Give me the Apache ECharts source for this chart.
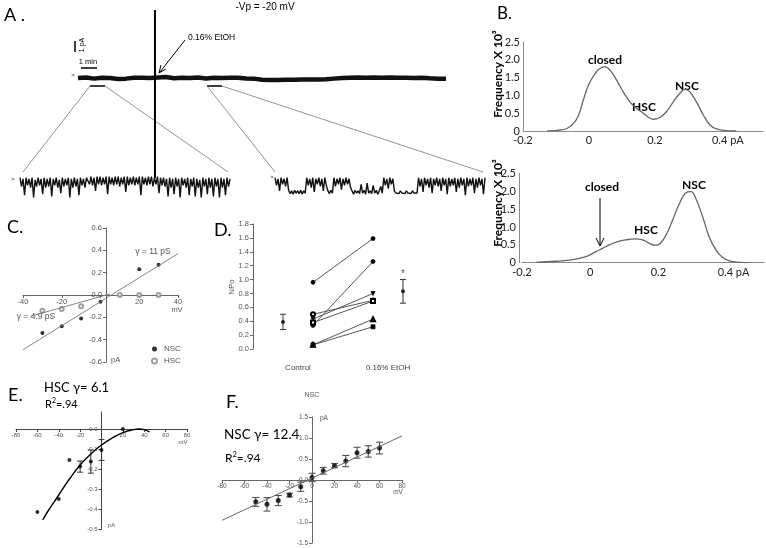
<!DOCTYPE html>
<html><head><meta charset="utf-8">
<script src="https://cdn.jsdelivr.net/npm/echarts@6.0.0/dist/echarts.min.js"></script>
<style>html,body{margin:0;padding:0;background:#fff}#c{width:766px;height:548px}</style>
</head><body><div id="c"></div>
<script>
// ---------- Panel A: recordings ----------
const topStep = 0.5; // minutes per sample
const topCurrent = [0,0.05,-0.05,0.03,0,-0.08,-0.05,0.02,0.04,0,
  0.05,0.1,-0.02,0.03,0,0.05,-0.03,0.02,0,0.04,
  0.02,-0.04,-0.05,-0.15,-0.18,-0.17,-0.15,-0.16,-0.14,-0.12,
  -0.13,-0.1,-0.05,0,0.03,0.05,0.04,0.06,0.02,0.05,
  0.03,0.04,0,0.02,-0.02,-0.05,-0.06];
const artifactTime = [4.81, 4.81];
const artifactCurrent = [6.2, -9.1];
const zoomTrace1 = [
  0.3,-0.5,0.2,-1.3,0.3,-0.4,0.2,-0.6,0.3,-1.5,
  0.1,-0.5,0.3,-0.4,0.2,-1.2,0.3,-0.6,0.2,-0.5,
  0.3,-1.4,0.2,-0.4,0.3,-0.6,0.1,-1.1,0.3,-0.5,
  0.2,-0.4,0.3,-1.5,0.2,-0.6,0.3,-0.5,0.2,-1.3,
  0.3,-0.4,0.2,-0.6,0.3,
  0.4,-0.3,0.4,-0.4,0.3,-0.9,0.4,-0.3,0.4,-0.4,
  0.3,-0.3,0.4,-1.2,0.4,-0.3,0.3,-0.4,0.4,-0.3,
  0.4,-0.5,0.3,-0.3,0.4,-1.0,0.4,-0.4,0.3,-0.3,
  0.4,-0.4,0.3,-0.3,0.4,-1.3,0.4,-0.3,0.3,-0.4,
  0.4,-0.3,0.4,-0.5,0.3,-0.3,0.4,-1.1,0.3,-0.4,
  0.3,-0.5,0.2,-1.4,0.3,-0.6,0.2,-1.2,0.3,-0.5,
  0.2,-1.5,0.3,-0.4,0.2,-0.6,0.3,-1.3,0.2,-0.5,
  0.3,-1.4,0.2,-0.6,0.1,-1.5,0.3,-0.5,0.2,-1.2,
  0.3,-0.6,0.2,-1.4,0.3,-0.5,0.2,-1.5,0.3,-0.6,
  0.2,-1.3,0.3,-0.5,0.2];
const zoomTrace2 = [
  0.3,-0.4,0.2,-0.9,0.3,-0.3,0.2,-0.5,0.3,
  -0.85,-1.15,-0.9,-1.2,-0.85,-1.1,-0.9,-1.15,-0.85,-1.2,-0.9,-1.1,
  0.3,-0.4,0.2,-0.6,0.3,-1.0,0.2,-0.3,0.3,-0.5,0.2,-0.9,0.3,-0.4,
  -0.9,-1.15,-0.85,-1.1,
  0.3,-0.5,0.2,-0.3,0.3,-0.8,0.2,-0.4,0.3,-0.3,0.2,-0.6,
  -0.9,-1.2,-0.85,-1.1,
  -0.9,-1.15,-0.3,-1.1,-0.85,-1.2,-0.2,-1.1,-0.9,-1.15,-0.4,-1.1,-0.85,-1.2,-0.9,-0.5,-1.1,
  0.3,-0.4,0.2,-0.7,0.3,-0.3,0.2,
  -0.9,-1.1,-0.95,-1.15,-0.9,-1.1,-0.95,-1.15,-0.9,-1.1,-0.95,-1.15,-0.9,-1.1,-0.95,-1.1,
  0.3,-0.5,0.2,-1.0,0.3,-0.4,0.2,-0.6,0.3,-1.1,
  0.2,-0.4,0.3,-0.5,0.2,-0.9,0.3,-0.4,0.2,-1.2,
  0.3,-0.5,0.2,-0.4,0.3,-1.0,0.2,-0.6,0.3,-0.4,
  0.2,-1.3,0.3,-0.5,0.2,-0.4,0.3,-1.1,0.2,-0.6,
  0.3,-0.4,0.2,-1.2,0.3];

// ---------- Panel B: amplitude histograms ----------
const bTopX = [-0.127,-0.097,-0.067,-0.046,-0.031,-0.017,0,0.023,0.038,0.048,0.064,0.084,0.104,0.124,0.144,0.165,0.185,0.195,0.215,0.235,0.256,0.276,0.291,0.306,0.326,0.347,0.367,0.387,0.417,0.447];
const bTopF = [0,0.02,0.07,0.22,0.45,0.87,1.32,1.67,1.78,1.81,1.71,1.43,1.10,0.82,0.64,0.50,0.36,0.33,0.38,0.54,0.82,1.06,1.17,1.10,0.82,0.45,0.17,0.06,0.01,0];
const bBotX = [-0.158,-0.100,-0.061,-0.032,-0.007,0.017,0.036,0.056,0.081,0.105,0.130,0.154,0.174,0.189,0.203,0.223,0.242,0.262,0.281,0.296,0.310,0.330,0.349,0.369,0.388,0.408,0.437,0.467];
const bBotF = [0.01,0.04,0.07,0.12,0.19,0.31,0.40,0.50,0.59,0.64,0.67,0.64,0.54,0.49,0.52,0.78,1.20,1.66,1.96,1.99,1.80,1.29,0.73,0.36,0.15,0.05,0.01,0];
const bXTickVals = [-0.2, 0, 0.2, 0.4];
const bXTickText = ['-0.2', '0', '0.2', '0.4 pA'];

// ---------- Panel C: I-V ----------
const cNscV = [-30,-20,-10,0,20,30];
const cNscI = [-0.34,-0.28,-0.21,-0.06,0.23,0.27];
const cHscV = [-30,-20,-10,10,20,30];
const cHscI = [-0.14,-0.125,-0.10,0,0,0];
const cNscFitV = [-40, 40];
const cNscFitI = [-0.49, 0.37];
const cHscFitV = [-36, 5];
const cHscFitI = [-0.19, 0.01];

// ---------- Panel D: NPo ----------
const dCategories = ['Control', '0.16% EtOH'];
const dControl = [0.96,0.34,0.43,0.50,0.38,0.06,0.06];
const dEtOH = [1.59,1.26,0.80,0.70,0.69,0.43,0.32];
const dSymbols = ['circle','circle','triangle','emptyCircle','emptyRect','emptyTriangle','rect'];
const dMeanX = [0.5, 2.5];
const dMean = [0.39, 0.83];
const dMeanLo = [0.28, 0.66];
const dMeanHi = [0.50, 1.00];
const dStar = [2.5, 1.08];

// ---------- Panel E: HSC I-V ----------
const eV = [-60,-40,-30,-20,-10,0,20];
const eI = [-0.415,-0.35,-0.155,-0.188,-0.163,-0.105,0.0];
const eErr = [0,0,0,0.028,0.058,0.052,0];
const eFitV = [-55,-50,-40,-30,-20,-10,0,10,20,30,35,40,45];
const eFitI = [-0.455,-0.41,-0.33,-0.25,-0.18,-0.125,-0.08,-0.045,-0.018,-0.003,0.0,-0.003,-0.015];

// ---------- Panel F: NSC I-V ----------
const fV = [-50,-40,-30,-20,-10,0,10,20,30,40,50,60];
const fI = [-0.52,-0.58,-0.49,-0.36,-0.16,0.06,0.22,0.34,0.45,0.65,0.68,0.76];
const fErr = [0.105,0.16,0.12,0.045,0.11,0.10,0.08,0.05,0.135,0.13,0.135,0.14];
const fFitV = [-80, 80];
const fFitI = [-0.96, 1.05];

// ================= build =================
const SP = 'Liberation Sans', XL = 'Lato';
const zip = (a, b) => a.map((v, i) => [v, b[i]]);

function hid(g, min, max) { return {type:'value', gridIndex:g, min, max, show:false}; }
function bX(g, max) {
  return {type:'value', gridIndex:g, min:-0.2, max, interval:0.2,
    axisLine:{onZero:false, lineStyle:{color:'#8a8a8a', width:1}}, axisTick:{show:false}, splitLine:{show:false},
    axisLabel:{showMaxLabel:false, fontFamily:XL, fontSize:11, color:'#222', margin:4,
      formatter: v => { const k = bXTickVals.findIndex(t => Math.abs(t - v) < 1e-6); if (k < 0) return ''; return k === 3 ? '{s| }' + bXTickText[k] : bXTickText[k]; },
      rich:{s:{width:14}}}};
}
function bY(g, off) {
  return {type:'value', gridIndex:g, min:0, max:2.5, interval:0.5, offset:off||0,
    axisLine:{show:true, onZero:false, lineStyle:{color:'#8a8a8a', width:1}}, axisTick:{show:false}, splitLine:{show:false},
    axisLabel:{fontFamily:XL, fontSize:11, color:'#222', margin:3, padding:[9,0,0,0],
      formatter: v => v === 0 ? '0' : v.toFixed(1)}};
}
// axes drawn where they cross: positioned with offsets (onZero off)
function spX(g, min, max, step, o) {
  return {type:'value', gridIndex:g, min, max, interval:step, position:'bottom', offset:o.offset || 0,
    axisLine:{onZero:false, lineStyle:{color:o.lc, width:1}},
    axisTick:{show:true, length:3, lineStyle:{color:o.lc}}, splitLine:{show:false},
    axisLabel:{fontFamily:SP, fontSize:o.fs, color:o.tc, margin:o.m,
      formatter: v => (v === 0 && o.hide0) ? '' : String(v)}};
}
function spY(g, min, max, step, o) {
  return {type:'value', gridIndex:g, min, max, interval:step, position:'left', offset:o.offset || 0,
    axisLine:{show:true, onZero:false, lineStyle:{color:o.lc, width:1}},
    axisTick:{show:true, length:3, lineStyle:{color:o.lc}}, splitLine:{show:false},
    axisLabel:{fontFamily:SP, fontSize:o.fs, color:o.tc, margin:o.m, showMaxLabel:o.showMax !== false,
      formatter: v => v.toFixed(1)}};
}

const grids = [
  {left:78, top:10, width:372, height:168},
  {left:20, top:172, width:210, height:28},
  {left:275, top:172, width:210, height:26},
  {left:523, top:42, width:240, height:89},
  {left:522, top:173.5, width:242, height:89.2},
  {left:23, top:228, width:155, height:134},
  {left:253, top:224, width:180, height:125},
  {left:16, top:412, width:171, height:117},
  {left:222, top:417, width:180, height:126}
];

// xAxis indices: 0-2 traces, 3-4 B, 5 C, 6 D(value), 7 D(category labels), 8 E, 9 F
const xAxes = [
  hid(0, 0, 23.25), hid(1, 0, zoomTrace1.length - 1), hid(2, 0, zoomTrace2.length - 1),
  bX(3, 0.528), bX(4, 0.51),
  spX(5, -40, 40, 20, {lc:'#666', tc:'#555', fs:7.5, m:3, hide0:true, offset:-67}),
  hid(6, 0, 3),
  {type:'category', gridIndex:6, data:dCategories, position:'bottom',
    axisLine:{show:false}, axisTick:{show:false}, splitLine:{show:false},
    axisLabel:{fontFamily:SP, fontSize:8, color:'#444', margin:15}},
  spX(7, -80, 80, 20, {lc:'#444', tc:'#555', fs:6, m:3, hide0:true, offset:-100}),
  spX(8, -80, 80, 20, {lc:'#666', tc:'#555', fs:6.5, m:3, hide0:false, offset:-63})
];
// yAxis indices: 0-2 traces, 3-4 B, 5 C, 6 D, 7 E, 8 F
const yAxes = [
  hid(0, -9.1, 6.2), hid(1, -1.73, 0.82), hid(2, -1.55, 0.82),
  bY(3, 0), bY(4, 3),
  spY(5, -0.6, 0.6, 0.2, {lc:'#666', tc:'#555', fs:7.5, m:4, offset:-83}),
  spY(6, 0, 1.8, 0.2, {lc:'#666', tc:'#555', fs:7.5, m:4}),
  spY(7, -0.5, 0.085, 0.1, {lc:'#444', tc:'#555', fs:6, m:4, showMax:false, offset:-85.5}),
  spY(8, -1.5, 1.5, 0.5, {lc:'#666', tc:'#555', fs:6.5, m:4, offset:-90})
];

function errRender(cap, color) {
  return function (params, api) {
    const x = api.value(0), lo = api.value(1), hi = api.value(2);
    const p1 = api.coord([x, lo]), p2 = api.coord([x, hi]);
    const st = {stroke: color, lineWidth: 1};
    return {type:'group', children:[
      {type:'line', shape:{x1:p1[0], y1:p1[1], x2:p2[0], y2:p2[1]}, style:st},
      {type:'line', shape:{x1:p1[0]-cap, y1:p1[1], x2:p1[0]+cap, y2:p1[1]}, style:st},
      {type:'line', shape:{x1:p2[0]-cap, y1:p2[1], x2:p2[0]+cap, y2:p2[1]}, style:st}
    ]};
  };
}
function ax(i, j) { return {xAxisIndex:i, yAxisIndex:j}; }

const series = [];
// A
series.push(Object.assign({type:'line', data: topCurrent.map((v, i) => [i * topStep, v]), symbol:'none',
  lineStyle:{color:'#111', width:4.5}}, ax(0,0)));
series.push(Object.assign({type:'line', data: zip(artifactTime, artifactCurrent), symbol:'none',
  lineStyle:{color:'#000', width:2}}, ax(0,0)));
series.push(Object.assign({type:'line', data: zoomTrace1.map((v, i) => [i, v]), symbol:'none',
  lineStyle:{color:'#111', width:1.4}}, ax(1,1)));
series.push(Object.assign({type:'line', data: zoomTrace2.map((v, i) => [i, v]), symbol:'none',
  lineStyle:{color:'#111', width:1.4}}, ax(2,2)));
// B
series.push(Object.assign({type:'line', data: zip(bTopX, bTopF), symbol:'none', smooth:0.4,
  lineStyle:{color:'#666', width:1.3}}, ax(3,3)));
series.push(Object.assign({type:'line', data: zip(bBotX, bBotF), symbol:'none', smooth:0.4,
  lineStyle:{color:'#666', width:1.3}}, ax(4,4)));
// C
series.push(Object.assign({type:'line', data: zip(cNscFitV, cNscFitI), symbol:'none',
  lineStyle:{color:'#777', width:0.9}}, ax(5,5)));
series.push(Object.assign({type:'line', data: zip(cHscFitV, cHscFitI), symbol:'none',
  lineStyle:{color:'#777', width:0.9}}, ax(5,5)));
series.push(Object.assign({type:'scatter', name:'NSC', data: zip(cNscV, cNscI), symbol:'circle', symbolSize:4,
  itemStyle:{color:'#000'}}, ax(5,5)));
series.push(Object.assign({type:'scatter', name:'HSC', data: zip(cHscV, cHscI), symbol:'emptyCircle', symbolSize:4,
  itemStyle:{color:'#888', borderColor:'#888', borderWidth:0.8}}, ax(5,5)));
// D
dControl.forEach((c, i) => {
  series.push(Object.assign({type:'line', data:[[1, c], [2, dEtOH[i]]], symbol:dSymbols[i], symbolSize:4,
    symbolRotate: i === 2 ? 180 : 0,
    lineStyle:{color:'#444', width:0.9}, itemStyle:{color:'#000', borderColor:'#000', borderWidth:0.8}}, ax(6,6)));
});
series.push(Object.assign({type:'custom', renderItem: errRender(3, '#333'),
  data: dMeanX.map((x, i) => [x, dMeanLo[i], dMeanHi[i]]), encode:{x:0, y:[1,2]}}, ax(6,6)));
series.push(Object.assign({type:'scatter', data: zip(dMeanX, dMean), symbol:'circle', symbolSize:4,
  itemStyle:{color:'#000'}}, ax(6,6)));
series.push(Object.assign({type:'scatter', data:[dStar], symbolSize:0,
  label:{show:true, position:'inside', formatter:'*', fontSize:10, color:'#333', fontFamily:SP}}, ax(6,6)));
// E
series.push(Object.assign({type:'line', data: zip(eFitV, eFitI), symbol:'none', smooth:0.5,
  lineStyle:{color:'#000', width:1.4}}, ax(8,7)));
series.push(Object.assign({type:'custom', renderItem: errRender(3, '#333'),
  data: eV.map((v, i) => [v, eI[i] - eErr[i], eI[i] + eErr[i]]).filter((d, i) => eErr[i] > 0), encode:{x:0, y:[1,2]}}, ax(8,7)));
series.push(Object.assign({type:'scatter', data: zip(eV, eI), symbol:'circle', symbolSize:4,
  itemStyle:{color:'#000'}}, ax(8,7)));
// F
series.push(Object.assign({type:'line', data: zip(fFitV, fFitI), symbol:'none',
  lineStyle:{color:'#666', width:1}}, ax(9,8)));
series.push(Object.assign({type:'custom', renderItem: errRender(3.5, '#444'),
  data: fV.map((v, i) => [v, fI[i] - fErr[i], fI[i] + fErr[i]]), encode:{x:0, y:[1,2]}}, ax(9,8)));
series.push(Object.assign({type:'scatter', data: zip(fV, fI), symbol:'circle', symbolSize:5,
  itemStyle:{color:'#000'}}, ax(9,8)));

// ---------- annotations ----------
const G = [];
function txt(x, y, text, o) {
  o = o || {};
  const st = {text, fill:o.color || '#000', fontSize:o.size || 10, fontFamily:o.family || SP,
    fontWeight:o.bold ? 'bold' : 'normal', align:o.align || 'center', verticalAlign:'middle'};
  if (o.rich) st.rich = o.rich;
  G.push({type:'text', x, y, rotation:o.rot || 0, silent:true, style:st});
}
function seg(x1, y1, x2, y2, color, w) {
  G.push({type:'line', silent:true, shape:{x1, y1, x2, y2}, style:{stroke:color || '#000', lineWidth:w || 1}});
}
function poly(pts, color, w) {
  G.push({type:'polyline', silent:true, shape:{points:pts}, style:{stroke:color || '#000', fill:null, lineWidth:w || 1}});
}
// A
txt(4, 15, 'A .', {family:XL, size:18, align:'left'});
txt(265, 7, '-Vp = -20 mV', {size:10});
txt(188, 38, '0.16% EtOH', {size:8.5, align:'left'});
seg(185, 40, 160, 72, '#000', 1);
poly([[166, 69], [159, 73], [161, 65]], '#000', 1);
seg(75, 41, 75, 52, '#000', 1.5);
txt(82, 45, '1 pA', {size:7, rot:Math.PI / 2});
txt(88, 62, '1 min', {size:7.5});
seg(81, 68, 97, 68, '#000', 1.5);
txt(73, 75, '>', {size:6});
txt(13, 179, '>', {size:6});
txt(272, 177, '>', {size:6});
seg(90, 86, 105, 86, '#000', 1.5);
seg(207, 86, 222, 86, '#000', 1.5);
seg(90, 86, 23, 172, '#777', 0.8);
seg(105, 86, 228, 172, '#777', 0.8);
seg(207, 86, 275, 172, '#777', 0.8);
seg(222, 86, 483, 172, '#777', 0.8);
// B
txt(497, 14, 'B.', {family:XL, size:17, align:'left'});
txt(498, 74, 'Frequency X 10³', {family:XL, size:12, bold:true, rot:Math.PI / 2});
txt(498, 203, 'Frequency X 10³', {family:XL, size:12, bold:true, rot:Math.PI / 2});
txt(605, 60, 'closed', {family:XL, size:12, bold:true});
txt(644, 107, 'HSC', {family:XL, size:12, bold:true});
txt(687, 86, 'NSC', {family:XL, size:12, bold:true});
txt(602, 187, 'closed', {family:XL, size:12, bold:true});
txt(646, 230, 'HSC', {family:XL, size:12, bold:true});
txt(694, 185, 'NSC', {family:XL, size:12, bold:true});
seg(600, 198, 600, 245, '#000', 1);
poly([[596, 238], [600, 246], [604, 238]], '#000', 1);
// C
txt(7, 227, 'C.', {family:XL, size:18, align:'left'});
txt(153, 252, 'γ = 11 pS', {size:8.5, color:'#555'});
txt(36, 317, 'γ = 4.9 pS', {size:8.5, color:'#555'});
txt(177, 310, 'mV', {size:7.5, color:'#555'});
txt(111, 360, 'pA', {size:7.5, color:'#555', align:'left'});
// D
txt(214, 230, 'D.', {family:XL, size:18, align:'left'});
txt(232, 287, 'NPo', {size:8, color:'#555', rot:Math.PI / 2});
// E
txt(8, 395, 'E.', {family:XL, size:18, align:'left'});
txt(44, 388, 'HSC γ= 6.1', {family:XL, size:13, align:'left'});
txt(45, 404, '{a|R}{s|2}{a|=.94}', {family:XL, size:11, align:'left',
  rich:{a:{fontFamily:XL, fontSize:11}, s:{fontFamily:XL, fontSize:7, verticalAlign:'top', padding:[0,0,6,0]}}});
txt(183, 442, 'mV', {size:6, color:'#555'});
txt(108, 525, 'pA', {size:6, color:'#555', align:'left'});
// F
txt(226, 402, 'F.', {family:XL, size:18, align:'left'});
txt(312, 395, 'NSC', {size:7, color:'#555'});
txt(224, 435, 'NSC γ= 12.4', {family:XL, size:13.5, align:'left'});
txt(225, 458, '{a|R}{s|2}{a|=.94}', {family:XL, size:12, align:'left',
  rich:{a:{fontFamily:XL, fontSize:12}, s:{fontFamily:XL, fontSize:7.5, verticalAlign:'top', padding:[0,0,6,0]}}});
txt(320, 418, 'pA', {size:6.5, color:'#555', align:'left'});
txt(398, 492, 'mV', {size:6.5, color:'#555'});

const chart = echarts.init(document.getElementById('c'), null, {renderer:'canvas', width:766, height:548});
chart.setOption({
  animation:false,
  backgroundColor:'#fff',
  textStyle:{fontFamily:SP},
  grid: grids,
  xAxis: xAxes,
  yAxis: yAxes,
  legend: {data:['NSC','HSC'], orient:'vertical', left:146, top:340, itemWidth:5, itemHeight:5, itemGap:4,
    textStyle:{fontSize:8, color:'#555', fontFamily:SP, padding:[0,0,0,2]}},
  series: series,
  graphic: G
});
</script></body></html>
